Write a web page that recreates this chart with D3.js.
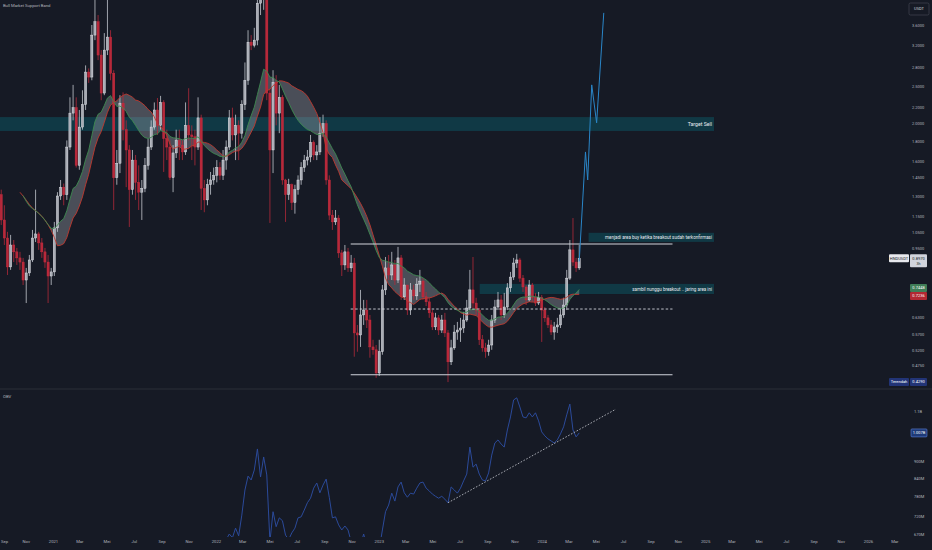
<!DOCTYPE html>
<html>
<head>
<meta charset="utf-8">
<script src="https://cdn.jsdelivr.net/npm/d3@7"></script>
<style>
html, body { margin: 0; padding: 0; background: #161a25; }
svg { display: block; }
text { font-family: Roboto, "Liberation Sans", sans-serif; }
</style>
</head>
<body>
<svg id="chart" width="932" height="550"></svg>
<script>
// weekly candles, first visible week
const startDate = new Date(2020, 8, 7);

// closes of the weeks before the visible range (only feed the moving averages)
const preCloses = [1.38, 1.45, 1.52, 1.56, 1.40, 1.33, 1.36, 1.40, 1.42, 1.55, 1.95, 2.28, 1.31];

const closes = [
  1.127, 1.012, 0.852, 0.971, 0.932, 0.899, 0.877, 0.788, 0.822, 0.888,
  1.012, 1.037, 0.983, 0.932, 0.877, 0.807, 0.827, 1.075, 1.30, 1.37,
  1.31, 1.74, 2.13, 2.20, 1.56, 1.96, 2.24, 2.72, 2.64, 3.39,
  3.67, 3.01, 2.40, 3.10, 3.35, 2.70, 1.45, 1.58, 2.26, 1.93,
  1.71, 1.35, 1.61, 1.41, 1.33, 1.36, 1.56, 1.74, 1.96, 2.17,
  1.98, 2.27, 1.83, 1.74, 1.45, 1.68, 1.81, 1.76, 1.69, 1.98,
  1.87, 1.85, 1.74, 2.07, 1.36, 1.27, 1.39, 1.43, 1.47, 1.54,
  1.47, 1.61, 1.74, 2.07, 1.87, 1.98, 1.89, 2.24, 2.59, 3.25,
  3.19, 3.29, 4.10, 4.40, 4.80, 2.40, 1.71, 2.56, 2.13, 2.34,
  1.43, 1.31, 1.39, 1.25, 1.35, 1.43, 1.54, 1.61, 1.64, 1.79,
  1.66, 1.69, 1.89, 2.00, 1.43, 1.16, 1.114, 1.14, 0.926, 0.862,
  0.932, 0.847, 0.872, 0.575, 0.568, 0.640, 0.659, 0.621, 0.529, 0.520,
  0.453, 0.514, 0.743, 0.847, 0.812, 0.862, 0.788, 0.899, 0.713, 0.765,
  0.659, 0.743, 0.717, 0.769, 0.783, 0.713, 0.692, 0.648, 0.596, 0.629,
  0.585, 0.621, 0.575, 0.484, 0.526, 0.578, 0.585, 0.592, 0.621, 0.667,
  0.743, 0.687, 0.659, 0.552, 0.526, 0.514, 0.535, 0.621, 0.671, 0.700,
  0.640, 0.671, 0.752, 0.802, 0.872, 0.888, 0.797, 0.756, 0.700, 0.765,
  0.709, 0.687, 0.709, 0.659, 0.629, 0.603, 0.578, 0.596, 0.603, 0.640,
  0.679, 0.797, 0.943, 0.877, 0.847, 0.897
];

const highs = [
  1.35, 1.23, 1.05, 1.031, 1.00, 0.954, 0.932, 0.899, 0.847, 0.915,
  1.062, 1.35, 1.05, 1.012, 0.954, 0.915, 0.847, 1.114, 1.33, 1.43,
  1.40, 1.81, 2.34, 2.52, 2.34, 2.17, 2.44, 2.83, 2.78, 3.60,
  4.18, 3.82, 3.10, 3.43, 4.18, 3.49, 2.75, 1.71, 2.37, 2.41,
  2.04, 1.76, 1.71, 1.66, 1.56, 1.43, 1.63, 1.83, 2.04, 2.27,
  2.33, 2.36, 2.30, 1.93, 1.81, 1.76, 1.93, 1.93, 1.81, 2.27,
  2.47, 1.98, 1.93, 2.34, 2.11, 1.43, 1.44, 1.50, 1.54, 1.61,
  1.59, 1.71, 1.81, 2.17, 2.20, 2.11, 2.04, 2.30, 2.88, 3.49,
  3.39, 3.54, 4.30, 4.60, 5.10, 4.90, 2.47, 2.75, 2.67, 2.52,
  2.37, 1.44, 1.44, 1.40, 1.39, 1.47, 1.59, 1.66, 1.71, 1.87,
  1.81, 1.76, 2.08, 2.11, 2.04, 1.47, 1.196, 1.196, 1.16, 0.943,
  0.971, 0.954, 0.915, 0.899, 0.603, 0.743, 0.700, 0.700, 0.640, 0.552,
  0.535, 0.552, 0.765, 0.904, 0.915, 0.932, 0.888, 0.960, 0.915, 0.797,
  0.765, 0.774, 0.765, 0.797, 0.837, 0.797, 0.734, 0.709, 0.659, 0.648,
  0.640, 0.640, 0.648, 0.585, 0.552, 0.603, 0.614, 0.629, 0.652, 0.700,
  0.837, 0.904, 0.709, 0.667, 0.568, 0.542, 0.552, 0.640, 0.700, 0.734,
  0.721, 0.730, 0.774, 0.827, 0.899, 0.921, 0.899, 0.812, 0.765, 0.788,
  0.774, 0.730, 0.734, 0.721, 0.671, 0.640, 0.621, 0.614, 0.629, 0.667,
  0.709, 0.837, 1.000, 1.14, 0.899, 0.971
];

const lows = [
  1.094, 0.971, 0.812, 0.837, 0.877, 0.862, 0.837, 0.765, 0.687, 0.807,
  0.877, 0.988, 0.943, 0.899, 0.847, 0.687, 0.765, 0.807, 1.05, 1.27,
  1.23, 1.27, 1.71, 2.04, 1.54, 1.52, 1.93, 2.17, 2.55, 2.59,
  3.29, 2.92, 2.30, 2.37, 3.01, 2.59, 1.196, 1.39, 1.49, 1.81,
  1.37, 1.081, 1.31, 1.27, 1.196, 1.127, 1.33, 1.52, 1.71, 1.93,
  1.87, 1.93, 1.50, 1.61, 1.43, 1.33, 1.63, 1.61, 1.61, 1.66,
  1.81, 1.61, 1.56, 1.71, 1.196, 1.18, 1.23, 1.31, 1.39, 1.41,
  1.43, 1.43, 1.52, 1.71, 1.81, 1.61, 1.61, 1.83, 2.17, 2.52,
  3.10, 3.15, 3.19, 3.82, 3.94, 2.30, 1.107, 1.49, 1.98, 1.89,
  1.39, 1.114, 1.27, 1.196, 1.17, 1.31, 1.39, 1.50, 1.56, 1.59,
  1.61, 1.61, 1.66, 1.85, 1.39, 1.127, 1.062, 1.094, 0.899, 0.807,
  0.837, 0.827, 0.827, 0.499, 0.514, 0.529, 0.603, 0.592, 0.496, 0.505,
  0.440, 0.445, 0.505, 0.721, 0.788, 0.788, 0.765, 0.774, 0.700, 0.700,
  0.640, 0.640, 0.700, 0.700, 0.734, 0.700, 0.675, 0.629, 0.585, 0.585,
  0.568, 0.575, 0.561, 0.429, 0.475, 0.520, 0.552, 0.545, 0.575, 0.614,
  0.659, 0.667, 0.640, 0.535, 0.514, 0.496, 0.502, 0.520, 0.610, 0.659,
  0.621, 0.629, 0.659, 0.734, 0.788, 0.847, 0.779, 0.734, 0.679, 0.692,
  0.692, 0.675, 0.679, 0.545, 0.614, 0.592, 0.568, 0.552, 0.575, 0.592,
  0.629, 0.659, 0.788, 0.857, 0.827, 0.837
];

// OBV in millions, null where the line sits far below the pane
const obvValues = [
  null, null, null, null, null, null, null, null, null, null,
  null, null, null, null, null, null, null, null, null, null,
  null, null, null, null, null, null, null, null, null, null,
  null, null, null, null, null, null, null, null, null, null,
  null, null, null, null, null, null, null, null, null, null,
  null, null, null, null, null, null, null, null, null, null,
  null, null, null, null, null, null, null, null, null, null,
  640, 640, 655, 670, 660, 686, 665, 723, 800, 846,
  833, 867, 944, 843, 914, 850, 650, 733, 690, 715,
  707, 667, 655, 673, 686, 715, 718, 738, 760, 774,
  806, 823, 791, 816, 836, 777, 715, 718, 695, 681,
  692, 681, 650, 620, 610, 640, 670, 640, 610, 590,
  580, 630, 681, 733, 753, 790, 765, 810, 826, 791,
  777, 790, 787, 806, 823, 826, 806, 797, 787, 780,
  774, 780, 771, 760, 810, 800, 790, 806, 830, 853,
  951, 877, 888, 853, 833, 830, 857, 921, 967, 979,
  963, 951, 1019, 1074, 1150, 1160, 1118, 1074, 1070, 1092,
  1074, 1092, 1057, 1011, 995, 983, 975, 967, 979, 1003,
  1032, 1083, 1131, 1019, 991, 1007
];

const priceTicks = [3.6, 3.2, 2.8, 2.5, 2.2, 2.0, 1.8, 1.6, 1.45, 1.3, 1.15, 1.05, 0.95, 0.87, 0.775, 0.69, 0.63, 0.57, 0.52, 0.475];
const obvTicks = [1100, 900, 840, 780, 720, 670];
const obvTickLabels = ['1.1B', '900M', '840M', '780M', '720M', '670M'];
const monthNames = ['Jan', 'Feb', 'Mar', 'Apr', 'Mei', 'Jun', 'Jul', 'Agu', 'Sep', 'Okt', 'Nov', 'Des'];
const timeTickRange = ['2020-09-01', '2026-04-01'];

// drawings on the chart
const targetZone = { from: '2020-08-01', to: '2025-01-21', low: 1.915, high: 2.08, label: 'Target Sell' };
const waitZone = { from: '2023-08-15', to: '2025-01-21', low: 0.725, high: 0.770, label: 'sambil nunggu breakout .. jaring area ini' };
const buyNote = { from: '2024-04-15', to: '2025-01-21', low: 0.989, high: 1.044, label: 'menjadi area buy ketika breakout sudah terkonfirmasi' };
const rangeLines = [
  { from: '2022-10-30', to: '2024-10-20', price: 0.977, dashed: false },
  { from: '2022-10-30', to: '2024-10-20', price: 0.663, dashed: true },
  { from: '2022-10-30', to: '2024-10-20', price: 0.448, dashed: false }
];
const projection = [
  ['2024-03-25', 0.88], ['2024-04-08', 1.69], ['2024-04-13', 1.43],
  ['2024-04-22', 2.52], ['2024-05-03', 2.01], ['2024-05-19', 3.87]
];
const obvTrend = [['2023-06-05', 760], ['2024-06-15', 1108]];

const symbolName = 'HNDUSDT';

// ---------------------------------------------------------------
const svg = d3.select('#chart');
const parse = d3.timeParse('%Y-%m-%d');
const weekDate = i => d3.timeDay.offset(startDate, 7 * i);

const paneRight = 905;
const mainBottom = 388;
const obvTop = 390, obvBottom = 537;

const x = d3.scaleTime().domain([new Date(2021, 0, 1), new Date(2026, 0, 1)]).range([53, 868]);
const y = d3.scaleLog().domain([0.475, 3.6]).range([365, 25]);
const yObv = d3.scaleLog().domain([670, 1100]).range([534, 411]);

svg.append('rect').attr('width', 932).attr('height', 550).attr('fill', '#161a25');

const defs = svg.append('defs');
defs.append('clipPath').attr('id', 'clipMain')
  .append('rect').attr('x', 0).attr('y', 0).attr('width', paneRight).attr('height', mainBottom);
defs.append('clipPath').attr('id', 'clipObv')
  .append('rect').attr('x', 0).attr('y', obvTop).attr('width', paneRight).attr('height', obvBottom - obvTop);

const main = svg.append('g').attr('clip-path', 'url(#clipMain)');
const teal = 'rgba(0,151,167,0.25)';

// zones
[targetZone, waitZone, buyNote].forEach(z => {
  main.append('rect')
    .attr('x', x(parse(z.from)))
    .attr('y', y(z.high))
    .attr('width', x(parse(z.to)) - x(parse(z.from)))
    .attr('height', y(z.low) - y(z.high))
    .attr('fill', teal);
});

// bull market support band
const allCloses = preCloses.concat(closes);
const allDates = allCloses.map((_, k) => weekDate(k - preCloses.length));

function sma(arr, n) {
  return arr.map((v, i) => i < n - 1 ? null : d3.mean(arr.slice(i - n + 1, i + 1)));
}
function ema(arr, n) {
  const a = 2 / (n + 1);
  const out = [];
  let prev = null;
  arr.forEach((v, i) => {
    if (i < n - 1) { out.push(null); return; }
    prev = prev === null ? d3.mean(arr.slice(0, n)) : a * v + (1 - a) * prev;
    out.push(prev);
  });
  return out;
}
const sma20 = sma(allCloses, 20);
const ema21 = ema(allCloses, 21);
const band = allDates.map((d, k) => ({ date: d, s: sma20[k], e: ema21[k] }));

main.append('path')
  .datum(band)
  .attr('fill', 'rgba(160,163,173,0.38)')
  .attr('d', d3.area()
    .defined(d => d.s !== null && d.e !== null)
    .x(d => x(d.date))
    .y0(d => y(d.s))
    .y1(d => y(d.e)));

// candles
const candles = closes.map((c, i) => ({
  date: weekDate(i),
  o: i === 0 ? preCloses[preCloses.length - 1] : closes[i - 1],
  h: highs[i],
  l: lows[i],
  c: c
}));

const cg = main.append('g');
cg.selectAll('line.wick')
  .data(candles)
  .enter().append('line')
  .attr('class', 'wick')
  .attr('x1', d => x(d.date)).attr('x2', d => x(d.date))
  .attr('y1', d => y(d.h)).attr('y2', d => y(d.l))
  .attr('stroke', d => d.c >= d.o ? '#c3c6ce' : '#b22a3a')
  .attr('stroke-width', 0.8);

cg.selectAll('rect.body')
  .data(candles)
  .enter().append('rect')
  .attr('class', 'body')
  .attr('x', d => x(d.date) - 1.1)
  .attr('width', 2.2)
  .attr('y', d => y(Math.max(d.o, d.c)))
  .attr('height', d => Math.max(1, y(Math.min(d.o, d.c)) - y(Math.max(d.o, d.c))))
  .attr('fill', d => d.c >= d.o ? '#a9acb5' : '#b8283a')
  .attr('stroke', d => d.c >= d.o ? '#eceef3' : '#c92f40')
  .attr('stroke-width', 0.4);

// band lines
main.append('path')
  .datum(band)
  .attr('fill', 'none')
  .attr('stroke', '#c0392f')
  .attr('stroke-width', 0.9)
  .attr('d', d3.line().defined(d => d.s !== null).x(d => x(d.date)).y(d => y(d.s)));
main.append('path')
  .datum(band)
  .attr('fill', 'none')
  .attr('stroke', '#3d8a50')
  .attr('stroke-width', 0.9)
  .attr('d', d3.line().defined(d => d.e !== null).x(d => x(d.date)).y(d => y(d.e)));

// range lines
rangeLines.forEach(l => {
  main.append('line')
    .attr('x1', x(parse(l.from))).attr('x2', x(parse(l.to)))
    .attr('y1', y(l.price)).attr('y2', y(l.price))
    .attr('stroke', '#d1d4dc')
    .attr('stroke-width', l.dashed ? 0.9 : 1.1)
    .attr('stroke-dasharray', l.dashed ? '2.5,2' : null);
});

// zone texts
[targetZone, waitZone, buyNote].forEach((z, k) => {
  main.append('text')
    .attr('x', x(parse(z.to)) - 2)
    .attr('y', (y(z.low) + y(z.high)) / 2)
    .attr('dy', '0.35em')
    .attr('text-anchor', 'end')
    .attr('font-size', k === 0 ? 5.2 : 4.5)
    .attr('fill', '#e8eaf0')
    .text(z.label);
});

// projection path
main.append('path')
  .datum(projection)
  .attr('fill', 'none')
  .attr('stroke', '#2a86c8')
  .attr('stroke-width', 1)
  .attr('d', d3.line().x(d => x(parse(d[0]))).y(d => y(d[1])));

main.append('text')
  .attr('x', 3).attr('y', 7)
  .attr('font-size', 4.2)
  .attr('fill', '#b2b5be')
  .text('Bull Market Support Band');

// OBV pane
const obvG = svg.append('g').attr('clip-path', 'url(#clipObv)');
const obvData = obvValues.map((v, i) => ({ date: weekDate(i), v: v }));
obvG.append('path')
  .datum(obvData)
  .attr('fill', 'none')
  .attr('stroke', '#2b4a9a')
  .attr('stroke-width', 1)
  .attr('d', d3.line().defined(d => d.v !== null).x(d => x(d.date)).y(d => yObv(d.v)));

obvG.append('line')
  .attr('x1', x(parse(obvTrend[0][0]))).attr('y1', yObv(obvTrend[0][1]))
  .attr('x2', x(parse(obvTrend[1][0]))).attr('y2', yObv(obvTrend[1][1]))
  .attr('stroke', '#c8cad2')
  .attr('stroke-width', 0.8)
  .attr('stroke-dasharray', '1.6,1.6');

svg.append('line')
  .attr('x1', 0).attr('x2', 932).attr('y1', 389).attr('y2', 389)
  .attr('stroke', '#2a2e39').attr('stroke-width', 1);

svg.append('text')
  .attr('x', 3).attr('y', 398)
  .attr('font-size', 4.2)
  .attr('fill', '#b2b5be')
  .text('OBV');

// values shown in the right-side tags
const lastE = ema21[ema21.length - 1], lastS = sma20[sma20.length - 1];
let yE = y(lastE), yS = y(lastS);
if (Math.abs(yE - yS) < 8) {
  const mid = (yE + yS) / 2;
  const up = lastE >= lastS;
  yE = mid + (up ? -4 : 4);
  yS = mid + (up ? 4 : -4);
}
const lastC = closes[closes.length - 1];
const yC = y(lastC);
const minLow = d3.min(lows);
const lastObv = obvValues[obvValues.length - 1];

// price axis, skipping ticks hidden behind the tags
const tagRows = [yE, yS, yC + 2.5, y(minLow)];
const shownTicks = priceTicks.filter(t => tagRows.every(r => Math.abs(y(t) - r) > 7));
const priceAxis = svg.append('g')
  .attr('transform', 'translate(912,0)')
  .call(d3.axisRight(y).tickValues(shownTicks).tickFormat(d3.format('.4f')).tickSize(0).tickPadding(0));
priceAxis.select('.domain').remove();
priceAxis.selectAll('text').attr('font-size', 4).attr('fill', '#b2b5be').attr('font-family', 'Roboto, sans-serif');

// OBV axis
const obvAxis = svg.append('g')
  .attr('transform', 'translate(914,0)')
  .call(d3.axisRight(yObv).tickValues(obvTicks).tickFormat((d, i) => obvTickLabels[i]).tickSize(0).tickPadding(0));
obvAxis.select('.domain').remove();
obvAxis.selectAll('text').attr('font-size', 4).attr('fill', '#b2b5be').attr('font-family', 'Roboto, sans-serif');

// time axis
const timeTicks = d3.timeMonth.every(2).range(parse(timeTickRange[0]), parse(timeTickRange[1]));
const xAxis = svg.append('g')
  .attr('transform', 'translate(0,540)')
  .call(d3.axisBottom(x)
    .tickValues(timeTicks)
    .tickFormat(d => d.getMonth() === 0 ? d3.timeFormat('%Y')(d) : monthNames[d.getMonth()])
    .tickSize(0).tickPadding(0));
xAxis.select('.domain').remove();
xAxis.selectAll('text').attr('font-size', 4.2).attr('fill', '#b2b5be').attr('font-family', 'Roboto, sans-serif');
// keep the first label inside the picture
xAxis.selectAll('.tick').filter(d => x(d) < 5)
  .select('text').attr('text-anchor', 'start').attr('x', d => 0.5 - x(d));

// right side tags
function tag(xp, yc, w, fill, txt, color, stroke) {
  svg.append('rect')
    .attr('x', xp).attr('y', yc - 4).attr('width', w).attr('height', 8)
    .attr('rx', 1)
    .attr('fill', fill)
    .attr('stroke', stroke || 'none').attr('stroke-width', 0.6);
  svg.append('text')
    .attr('x', xp + w / 2).attr('y', yc).attr('dy', '0.35em')
    .attr('text-anchor', 'middle')
    .attr('font-size', 4).attr('fill', color)
    .text(txt);
}

// currency box
svg.append('rect').attr('x', 909).attr('y', 3).attr('width', 20).attr('height', 12)
  .attr('rx', 1.5).attr('fill', 'none').attr('stroke', '#434651').attr('stroke-width', 0.7);
svg.append('text').attr('x', 919).attr('y', 9).attr('dy', '0.35em').attr('text-anchor', 'middle')
  .attr('font-size', 4).attr('fill', '#d1d4dc').text('USDT');

tag(910, yE, 17, '#3f7d57', d3.format('.4f')(lastE), '#ffffff');
tag(910, yS, 17, '#b22833', d3.format('.4f')(lastS), '#ffffff');

// last price
svg.append('rect').attr('x', 910).attr('y', yC - 4).attr('width', 17).attr('height', 13)
  .attr('rx', 1).attr('fill', '#d1d4dc');
svg.append('text').attr('x', 918.5).attr('y', yC).attr('dy', '0.35em').attr('text-anchor', 'middle')
  .attr('font-size', 4).attr('fill', '#131722').text(d3.format('.4f')(lastC));
svg.append('text').attr('x', 918.5).attr('y', yC + 5.5).attr('dy', '0.35em').attr('text-anchor', 'middle')
  .attr('font-size', 3.6).attr('fill', '#131722').text('3h');
tag(889, yC, 20, '#e8e9ee', symbolName, '#131722');

// lowest low
tag(889, y(minLow), 20, '#223476', 'Terendah', '#ffffff');
tag(910, y(minLow), 17, '#223476', d3.format('.4f')(minLow), '#ffffff');

// OBV last value
tag(911, yObv(lastObv), 16, '#1e3a78', (lastObv / 1000).toFixed(3) + 'B', '#ffffff', '#5b7fd6');
</script>
</body>
</html>
